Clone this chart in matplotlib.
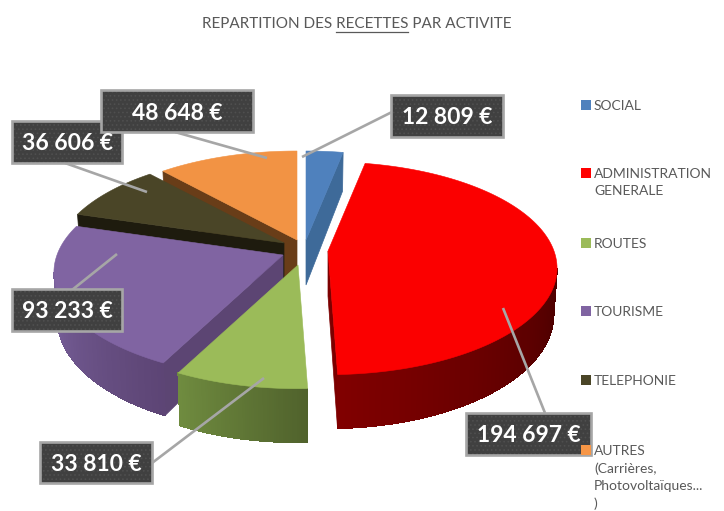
import numpy as np
import matplotlib
matplotlib.use('Agg')
import matplotlib.pyplot as plt
from matplotlib.colors import to_rgb
from matplotlib.patches import Polygon, Rectangle

plt.rcParams['font.family'] = ['Lato', 'DejaVu Sans']
plt.rcParams['hatch.linewidth'] = 0.7

categories = ['SOCIAL', 'ADMINISTRATION\nGENERALE', 'ROUTES', 'TOURISME', 'TELEPHONIE',
              'AUTRES\n(Carrières,\nPhotovoltaïques...\n)']
values = [12809, 194697, 33810, 93233, 36606, 48648]
title_left = 'REPARTITION DES '
title_mid = 'RECETTES'
title_right = ' PAR ACTIVITE'

colors = ['#4f81bd', '#fb0000', '#9bbb59', '#8064a2', '#4a4527', '#f29344']
legend_colors = ['#4f81bd', '#ff0000', '#9bbb59', '#8064a2', '#4a4527', '#f79646']
face_colors = ['#3e6a99', '#7c0000', None, '#5c4573', '#1e1b0e', '#693d18']
face_side = ['end', 'end', None, 'start', 'start', 'start']
wall_left = [None, '#800000', '#6f8b3f', '#78609a', None, None]
wall_right = [None, '#4a0000', '#50622c', '#5d4575', None, None]

# sommet de chaque part en pixels (parts eclatees)
apex_x = [306, 328, 298, 283, 284, 297]
apex_y = [240, 251, 265, 255, 243, 240]

# projection du camembert
R = 226
ry = 103.5
k = 0.163
depth = 45
bottom_shrink = 0.985

# etiquettes : boite x0, x1, y0, y1 et trait de rappel
boxes = [(391, 503, 95, 137), (466, 591, 413, 455), (40, 152, 442, 483),
         (12, 122, 289, 331), (12, 122, 121, 163), (101, 253, 90, 132)]
leaders = [(392, 112, 302, 157), (545, 413, 503, 308), (152, 463, 264, 378),
           (72, 290, 117, 254), (65, 163, 147, 192), (175, 132, 267, 158)]
legend_y = [105, 173, 243, 311, 380, 450]


def top_point(i, theta):
    s = 1 / (1 + k * np.cos(theta))
    return apex_x[i] + R * np.sin(theta) * s, apex_y[i] - ry * np.cos(theta) * s


def bottom_point(i, theta):
    s = 1 / (1 + k * np.cos(theta))
    x, y = top_point(i, theta)
    return apex_x[i] + (x - apex_x[i]) * bottom_shrink, y + depth * s


fig = plt.figure(figsize=(7.24, 5.11), dpi=100)
ax = fig.add_axes([0, 0, 1, 1])
ax.set_xlim(0, 724)
ax.set_ylim(511, 0)
ax.axis('off')

total = sum(values)
edges = np.concatenate([[0], np.cumsum(values)]) / total * 2 * np.pi
limit = np.arccos(-k)

# ordre de dessin : de l'arriere vers l'avant
for i in [5, 0, 4, 3, 1, 2]:
    t0, t1 = edges[i], edges[i + 1]

    # face coupee
    if face_side[i] is not None:
        t = t0 if face_side[i] == 'start' else t1
        pts = [(apex_x[i], apex_y[i]), top_point(i, t), bottom_point(i, t),
               (apex_x[i], apex_y[i] + depth)]
        ax.add_patch(Polygon(pts, facecolor=face_colors[i], edgecolor=face_colors[i], lw=0.5, zorder=2))

    # paroi exterieure en degrade
    if wall_left[i] is not None:
        a = max(t0, limit)
        b = min(t1, 2 * np.pi - limit)
        seg = np.linspace(a, b, 60)
        c_right = np.array(to_rgb(wall_right[i]))
        c_left = np.array(to_rgb(wall_left[i]))
        for j in range(len(seg) - 1):
            f = j / (len(seg) - 2)
            c = c_right + (c_left - c_right) * f
            pts = [top_point(i, seg[j]), top_point(i, seg[j + 1]),
                   bottom_point(i, seg[j + 1]), bottom_point(i, seg[j])]
            ax.add_patch(Polygon(pts, facecolor=c, edgecolor=c, lw=0.4, antialiased=False, zorder=2))

    # dessus
    arc = np.linspace(t0, t1, 120)
    pts = [(apex_x[i], apex_y[i])] + [top_point(i, t) for t in arc]
    ax.add_patch(Polygon(pts, facecolor=colors[i], edgecolor=colors[i], lw=0.4, zorder=2))

# traits de rappel
for x0, y0, x1, y1 in leaders:
    ax.plot([x0, x1], [y0, y1], color='#a6a6a6', lw=1.9, zorder=5, solid_capstyle='butt')

# etiquettes, chacune au-dessus de la precedente
for i in range(len(values)):
    x0, x1, y0, y1 = boxes[i]
    z = 6 + i * 0.1
    ax.add_patch(Rectangle((x0, y0), x1 - x0, y1 - y0, facecolor='#404040', edgecolor='#4f4f4f',
                           hatch='....', lw=0, zorder=z))
    ax.add_patch(Rectangle((x0, y0), x1 - x0, y1 - y0, facecolor='none', edgecolor='#a6a6a6',
                           lw=1.9, zorder=z + 0.01))
    label = f'{values[i]:,}'.replace(',', ' ') + ' €'
    ax.text((x0 + x1) / 2, (y0 + y1) / 2 + 2, label, color='white', fontsize=16.5, fontweight='bold',
            ha='center', va='center', zorder=10)

# legende
for i in range(len(categories)):
    ax.add_patch(Rectangle((581, legend_y[i] - 5), 10, 10, facecolor=legend_colors[i], edgecolor='none', zorder=9))
    ax.text(594, legend_y[i] - 5, categories[i], color='#595959', fontsize=10, ha='left', va='top',
            linespacing=1.5, zorder=9, clip_on=False)

# titre avec RECETTES souligne
title_size = 11
tt = ax.text(356.5, 24, title_left + title_mid + title_right, color='#595959', fontsize=title_size,
             ha='center', va='center')
fig.canvas.draw()
rend = fig.canvas.get_renderer()
full = tt.get_window_extent(rend)
probe = ax.text(0, 0, title_left.replace(' ', '\u00a0'), fontsize=title_size)
w_left = probe.get_window_extent(rend).width
probe.set_text(title_mid)
w_mid = probe.get_window_extent(rend).width
probe.remove()
ax.plot([full.x0 + w_left, full.x0 + w_left + w_mid], [32, 32], color='#595959', lw=0.9)

fig.savefig('out.png', dpi=100)
